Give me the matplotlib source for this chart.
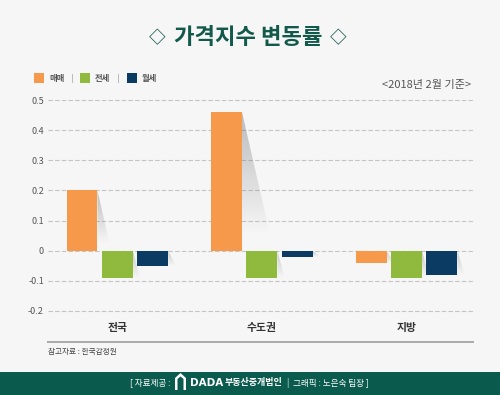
import numpy as np
import matplotlib
matplotlib.use("Agg")
import matplotlib.pyplot as plt
from matplotlib.patches import Polygon, Rectangle
from matplotlib.lines import Line2D

plt.rcParams['font.family'] = ['Noto Sans CJK KR', 'DejaVu Sans']

regions = ["전국", "수도권", "지방"]
series = ["매매", "전세", "월세"]
sale = [0.20, 0.46, -0.04]
jeonse = [-0.09, -0.09, -0.09]
monthly = [-0.05, -0.02, -0.08]
yticks = [-0.2, -0.1, 0, 0.1, 0.2, 0.3, 0.4, 0.5]

colors = ["#f7994b", "#8fba3e", "#0b3a63"]
bg = "#f5f6f5"
green_dark = "#0b5a4e"

W, H = 500, 395
fig = plt.figure(figsize=(5, 3.95), dpi=100, facecolor=bg)

def fx(px):
    return px / W

def fy(py):
    return 1 - py / H

ax = fig.add_axes([fx(48), fy(311), fx(473) - fx(48), fy(100) - fy(311)])
ax.set_facecolor(bg)

for spine in ax.spines.values():
    spine.set_visible(False)

ax.set_yticks(yticks)
ax.set_yticklabels(["0" if v == 0 else f"{v:g}" for v in yticks],
                   fontsize=6.5, color="#555555")
ax.tick_params(axis="y", length=0, pad=3)
for v in yticks:
    ax.axhline(v, color="#c4c4c4", linewidth=0.8, linestyle=(0, (4, 2)),
               zorder=0, clip_on=False)

x = np.arange(len(regions))
width = 0.214
step = 0.245


def add_shadow(xr, val):
    # soft grey wedge to the right of each bar
    if val >= 0:
        dx = 0.42 * val
        poly = [(xr, val), (xr + dx, 0.12 * val), (xr, 0.12 * val)]
        ext = [xr, xr + dx, 0.12 * val, val]
        grad = np.linspace(0.0, 0.45, 64)[:, None]  # bottom -> top
    else:
        dx = 0.05
        poly = [(xr, 0), (xr + dx, val), (xr, val)]
        ext = [xr, xr + dx, val, 0]
        grad = np.linspace(0.0, 0.35, 64)[:, None]
    rgba = np.zeros((64, 2, 4))
    rgba[..., :3] = 0.45
    rgba[..., 3] = grad
    im = ax.imshow(rgba, extent=ext, origin="lower", aspect="auto",
                   interpolation="bilinear", zorder=1)
    clip = Polygon(poly, closed=True, transform=ax.transData)
    im.set_clip_path(clip)


for i, (vals, c) in enumerate(zip([sale, jeonse, monthly], colors)):
    xs = x + (i - 1) * step
    ax.bar(xs, vals, width=width, color=c, zorder=2)
    for xi, v in zip(xs, vals):
        add_shadow(xi + width / 2, v)

ax.set_xlim(-0.48, 2.46)
ax.set_ylim(-0.2, 0.5)
ax.set_xticks(x)
ax.set_xticklabels(regions, fontsize=7.8, fontweight="bold", color="#333333")
ax.tick_params(axis="x", length=0, pad=9)

# bottom rule
fig.add_artist(Line2D([fx(48), fx(473)], [fy(342), fy(342)],
                      color="#a9a9a9", linewidth=1.4))
fig.text(fx(48), fy(352), "참고자료 : 한국감정원", fontsize=5.5,
         color="#444444", va="center", ha="left")

# title
title_c = "#13594b"
fig.text(fx(248.5), fy(38), "가격지수 변동률", fontsize=16, fontweight="bold",
         color=title_c, ha="center", va="center")
for dxp in [157, 338]:
    fig.text(fx(dxp), fy(38), "◇", fontsize=12, fontweight="bold",
             color=title_c, ha="center", va="center")

# legend
leg_x = [34, 80, 127]
for lx, name, c in zip(leg_x, series, colors):
    fig.add_artist(Rectangle((fx(lx), fy(83)), fx(10), fy(73) - fy(83),
                             facecolor=c, edgecolor="none"))
    fig.text(fx(lx + 15), fy(78), name, fontsize=6, fontweight="bold",
             color="#555555", va="center", ha="left")
for sx in [72, 118]:
    fig.add_artist(Line2D([fx(sx), fx(sx)], [fy(74), fy(82)],
                          color="#bbbbbb", linewidth=0.7))

fig.text(fx(471), fy(85), "<2018년 2월 기준>", fontsize=8, color="#555555",
         ha="right", va="center")

# footer band
fig.add_artist(Rectangle((0, 0), 1, fy(372), facecolor=green_dark,
                         edgecolor="none"))
fy_text = fy(383)
fig.text(fx(130), fy_text, "[ 자료제공 :", fontsize=6.2, color="white",
         va="center", ha="left")
house = [(175, 390), (175, 378), (180.5, 373), (186, 378), (186, 390),
         (183.5, 390), (183.5, 379), (180.5, 376.5), (177.5, 379), (177.5, 390)]
fig.add_artist(Polygon([(fx(a), fy(b)) for a, b in house], closed=True,
                       facecolor="white", edgecolor="none"))
fig.text(fx(190), fy_text, "DADA", fontsize=7.5, fontweight="bold",
         color="white", va="center", ha="left", family="DejaVu Sans")
fig.text(fx(225), fy_text, "부동산중개법인", fontsize=6.5, fontweight="bold",
         color="white", va="center", ha="left")
fig.text(fx(287), fy_text, "|  그래픽 : 노은숙 팀장 ]", fontsize=6.2,
         color="white", va="center", ha="left")

fig.savefig("out.png", dpi=100, facecolor=bg)
